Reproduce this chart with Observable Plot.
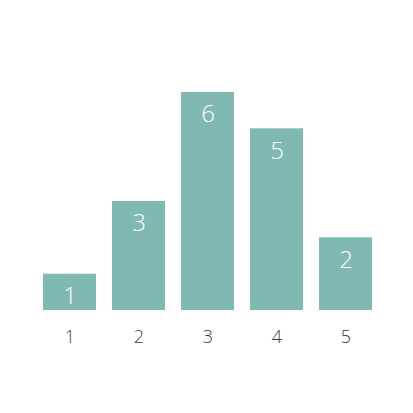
<!DOCTYPE html>
<html>
<head>
<meta charset="utf-8">
<script src="https://cdn.jsdelivr.net/npm/d3@7"></script>
<script src="https://cdn.jsdelivr.net/npm/@observablehq/plot@0.6"></script>
<style>
  html, body { margin: 0; padding: 0; background: #fff; }
</style>
</head>
<body>
<div id="chart"></div>
<script>
const categories = [1, 2, 3, 4, 5];
const values = [1, 3, 6, 5, 2];
const data = categories.map((c, i) => ({category: c, value: values[i]}));
const font = "'Open Sans', Lato, sans-serif";

const chart = Plot.plot({
  width: 413,
  height: 413,
  marginTop: 92,
  marginBottom: 103,
  marginLeft: 26,
  marginRight: 24,
  style: {background: "#fff", fontFamily: font},
  x: {domain: categories, padding: 0.235, label: null, axis: null},
  y: {domain: [0, 6], axis: null},
  marks: [
    Plot.barY(data, {x: "category", y: "value", fill: "#80b9b1"}),
    Plot.text(data, {
      x: "category", y: "value", text: d => String(d.value),
      dy: 22, fill: "#fff", fontSize: 24, fontWeight: 300,
      fontFamily: font
    }),
    Plot.axisX({
      tickSize: 0, tickPadding: 20, fontSize: 18, fontWeight: 300,
      fill: "#3a3a3a", label: null,
      fontFamily: font
    })
  ]
});
document.getElementById("chart").appendChild(chart);
</script>
</body>
</html>
